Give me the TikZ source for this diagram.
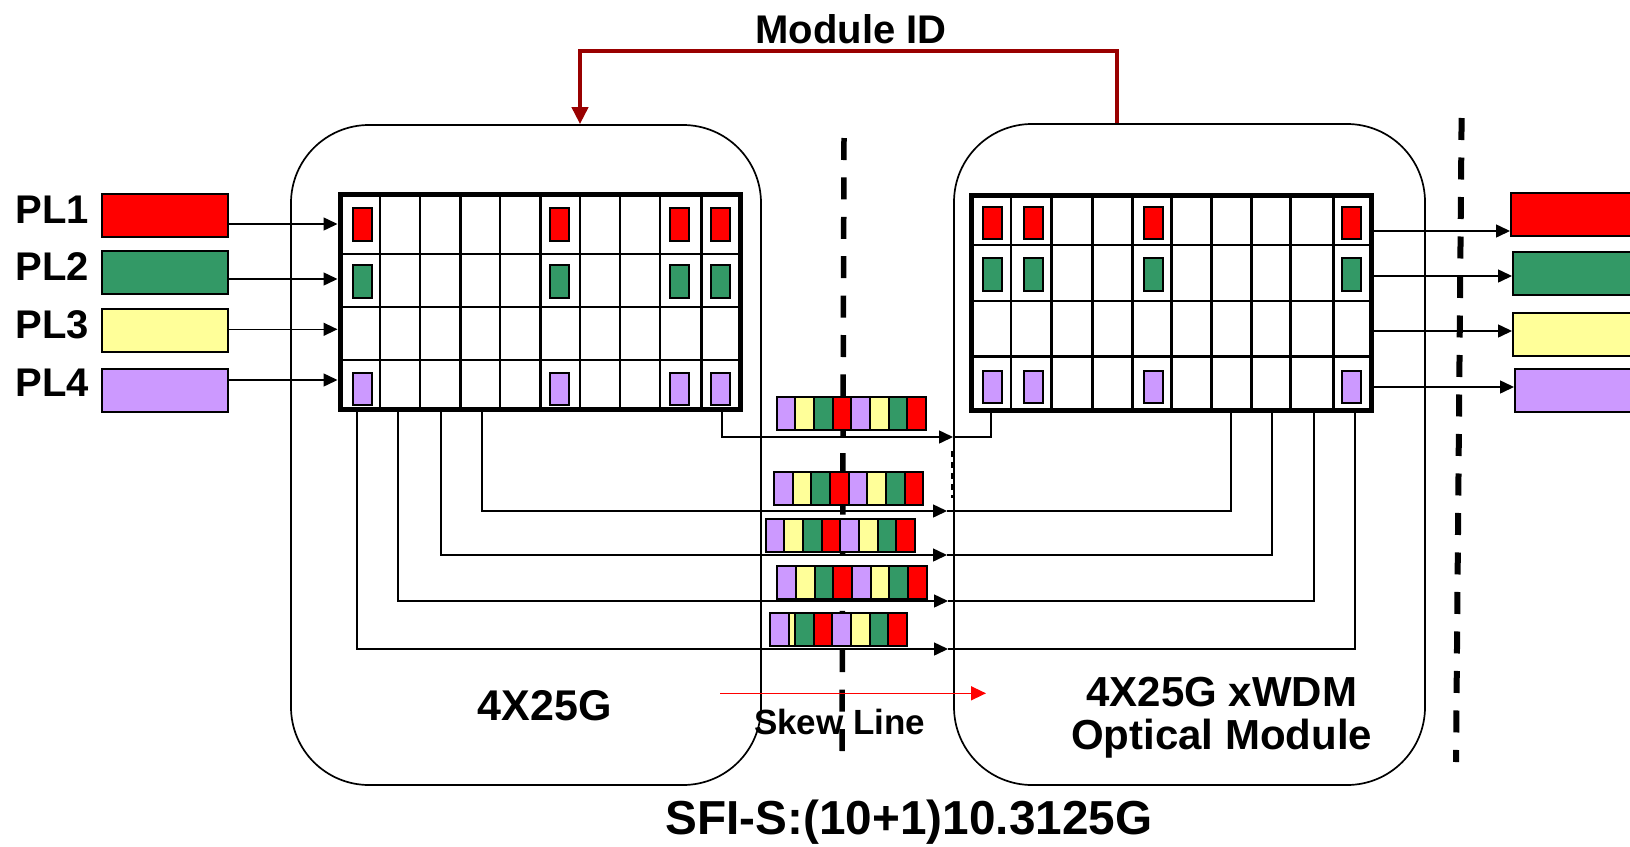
\documentclass[tikz,border=0pt]{standalone}
\usepackage{fontspec}
\setmainfont{Liberation Sans}
\usetikzlibrary{arrows.meta}
\definecolor{cred}{HTML}{FF0000}
\definecolor{cgreen}{HTML}{339966}
\definecolor{cyellow}{HTML}{FFFF99}
\definecolor{cpurple}{HTML}{CC99FF}
\definecolor{darkred}{HTML}{990000}
\newcommand\pkt[3]{%
  \foreach \c [count=\k] in {cpurple,cyellow,cgreen,cred,cpurple,cyellow,cgreen,cred}
    \node[pcell, fill=\c, anchor=north west] (#1-\k) at ({#2+(\k-1)*18.65},#3) {};}
\begin{document}
\begin{tikzpicture}[x=1pt,y=-1pt,
  modbox/.style={draw, line width=1.7pt, rounded corners=78pt, inner sep=0pt},
  gridframe/.style={draw, line width=5pt, inner sep=0pt},
  gridline/.style={line width=2.7pt},
  blk/.style={draw, line width=2pt, minimum width=19pt, minimum height=32.7pt, inner sep=0pt},
  plbar/.style={draw, line width=2pt, minimum height=43pt, inner sep=0pt},
  pcell/.style={draw, line width=2pt, minimum width=18.65pt, minimum height=32.5pt, inner sep=0pt, outer sep=0pt},
  wire/.style={line width=1.5pt},
  arrowtip/.style={-{Triangle[length=14pt,width=13pt]}},
  lbl/.style={font=\bfseries\fontsize{40}{48}\selectfont, inner sep=0pt, anchor=base},
  dashbar/.style={line width=5.5pt, dash pattern=on 22pt off 17.4pt},
]
\fill[white] (0,0) rectangle (1630,846);
\useasboundingbox (0,0) rectangle (1630,846);

% module boxes
\node[modbox, minimum width=470pt, minimum height=660pt] (lbox) at (526,455) {};
\node[modbox, minimum width=471pt, minimum height=661pt] (rbox) at (1189.5,454.5) {};

% Module ID feedback
\node[lbl] (mid) at (851,43) {Module ID};
\coordinate (mr) at (1117,0);
\coordinate (ml) at (580,0);
\coordinate (midy) at (0,51);
\draw[line width=4pt, darkred, -{Triangle[length=17pt,width=16pt]}]
  (rbox.north -| mr) |- (midy -| ml) -- (lbox.north -| ml);

% dashed reference lines
\draw[dashbar] (844,138) -- (842,755);
\draw[dashbar, line width=6pt, dash pattern=on 22pt off 17.5pt] (1461.6,118) -- (1456,762);
\draw[line width=2pt, dash pattern=on 6pt off 5pt] (952,451) -- (952,498);

% wires between the grids
\coordinate (lc1) at (357,409);
\coordinate (lc2) at (398,409);
\coordinate (lc3) at (441,409);
\coordinate (lc4) at (482,409);
\coordinate (lc10) at (722,409);
\coordinate (rc1) at (991,411);
\coordinate (rc7) at (1231,411);
\coordinate (rc8) at (1272,411);
\coordinate (rc9) at (1314,411);
\coordinate (rc10) at (1355,411);
\coordinate (t1) at (953,437);
\coordinate (t2) at (947,511);
\coordinate (t3) at (947,555);
\coordinate (t4) at (948,601);
\coordinate (t5) at (948,649);
\draw[wire, arrowtip] (lc10) |- (t1);
\draw[wire] (t1) -| (rc1);
\draw[wire, arrowtip] (lc4) |- (t2);
\draw[wire] (t2) -| (rc7);
\draw[wire, arrowtip] (lc3) |- (t3);
\draw[wire] (t3) -| (rc8);
\draw[wire, arrowtip] (lc2) |- (t4);
\draw[wire] (t4) -| (rc9);
\draw[wire, arrowtip] (lc1) |- (t5);
\draw[wire] (t5) -| (rc10);

% skew arrow
\coordinate (sk1) at (720,693.3);
\coordinate (sk2) at (986,693.3);
\draw[red, line width=1.5pt, -{Triangle[length=15pt,width=14pt]}] (sk1) -- (sk2);
\node[lbl, font=\bfseries\fontsize{35}{42}\selectfont] (skew) at (839.7,734.5) {Skew Line};

% packets
\pkt{pa}{776.7}{397.3}
\pkt{pb}{774}{472.3}
\pkt{pc}{765.7}{519.3}
\pkt{pd}{777.3}{566}
\node[pcell, fill=cyellow, anchor=north west] (pe-2) at (776.3,613.3) {};
\node[pcell, fill=cpurple, anchor=north west] (pe-1) at (770,613.3) {};
\foreach \c [count=\k from 3] in {cgreen,cred,cpurple,cyellow,cgreen,cred}
  \node[pcell, fill=\c, anchor=north west] (pe-\k) at ({795+(\k-3)*18.65},613.3) {};

% left grid
\foreach \x in {380,420,460.7,500,540.7,580,620,660,701.7}
  \draw[gridline] (\x,194) -- (\x,409);
\foreach \y in {254,307,360}
  \draw[gridline] (340,\y) -- (740,\y);
\node[gridframe, minimum width=400pt, minimum height=215pt] (lg) at (540,301.5) {};
\foreach \cx [count=\i] in {362,559.7,679.7,720.7}
  \foreach \cy/\cc [count=\j] in {224.7/cred,281.7/cgreen,389/cpurple}
    \node[blk, fill=\cc] (lb\i\j) at (\cx,\cy) {};

% right grid
\foreach \x in {1011,1051.7,1092.7,1132.3,1171.7,1211.7,1251.7,1290.7,1333.3}
  \draw[gridline] (\x,195) -- (\x,410.7);
\foreach \y in {245,301,356.7}
  \draw[gridline] (971.7,\y) -- (1371.7,\y);
\node[gridframe, minimum width=400pt, minimum height=215.7pt] (rg) at (1171.7,302.85) {};
\foreach \cx [count=\i] in {992,1033.7,1153.8,1351.2}
  \foreach \cy/\cc [count=\j] in {223/cred,274.5/cgreen,387/cpurple}
    \node[blk, fill=\cc] (rb\i\j) at (\cx,\cy) {};

% input lanes
\node[plbar, fill=cred, minimum width=126.6pt] (pl1) at (165,215) {};
\node[plbar, fill=cgreen, minimum width=126.6pt] (pl2) at (165,272.7) {};
\node[plbar, fill=cyellow, minimum width=126.6pt] (pl3) at (165,330) {};
\node[plbar, fill=cpurple, minimum width=126.6pt] (pl4) at (165,390.3) {};
\node[lbl] (n1) at (52,223) {PL1};
\node[lbl] (n2) at (52,280) {PL2};
\node[lbl] (n3) at (52,338) {PL3};
\node[lbl] (n4) at (52,396.7) {PL4};
\coordinate (i1) at (0,224);
\coordinate (i2) at (0,279);
\coordinate (i3) at (0,329.3);
\coordinate (i4) at (0,380);
\draw[wire, arrowtip] (pl1.east |- i1) -- (lg.west |- i1);
\draw[wire, arrowtip] (pl2.east |- i2) -- (lg.west |- i2);
\draw[wire, arrowtip] (pl3.east |- i3) -- (lg.west |- i3);
\draw[wire, arrowtip] (pl4.east |- i4) -- (lg.west |- i4);

% output lanes
\node[plbar, fill=cred, minimum width=150pt] (op1) at (1586,214.2) {};
\node[plbar, fill=cgreen, minimum width=150pt] (op2) at (1588,273) {};
\node[plbar, fill=cyellow, minimum width=150pt] (op3) at (1588,334) {};
\node[plbar, fill=cpurple, minimum width=150pt] (op4) at (1590,390.8) {};
\coordinate (o1) at (0,231);
\coordinate (o2) at (0,276);
\coordinate (o3) at (0,331);
\coordinate (o4) at (0,387);
\draw[wire, arrowtip] (rg.east |- o1) -- (op1.west |- o1);
\draw[wire, arrowtip] (rg.east |- o2) -- (op2.west |- o2);
\draw[wire, arrowtip] (rg.east |- o3) -- (op3.west |- o3);
\draw[wire, arrowtip] (rg.east |- o4) -- (op4.west |- o4);

% labels
\node[lbl, font=\bfseries\fontsize{43}{50}\selectfont] (lname) at (544.7,720) {4X25G};
\node[inner sep=0pt, anchor=north, align=center, font=\bfseries\fontsize{42}{43.3}\selectfont] (rname) at (1221.7,676.6) {4X25G xWDM\\Optical Module};
\node[lbl, font=\bfseries\fontsize{47.7}{56}\selectfont] (sfi) at (909,834) {SFI-S:(10+1)10.3125G};
\end{tikzpicture}
\end{document}
